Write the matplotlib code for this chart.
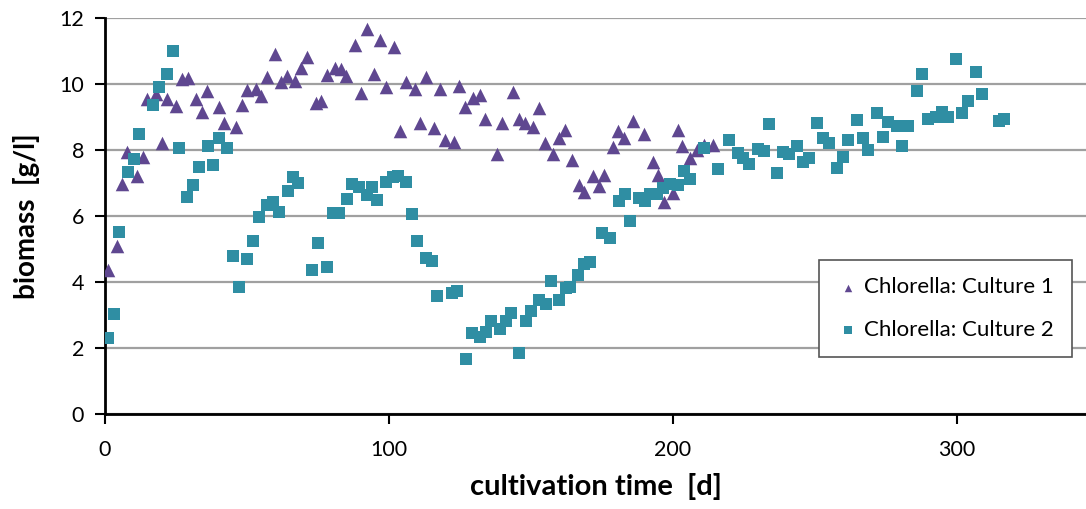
import matplotlib
matplotlib.use("Agg")
import matplotlib.pyplot as plt

# Chlorella: Culture 1 (triangles)
c1_days = [1.2, 4.1, 6.1, 7.9, 11.1, 13.3, 14.9, 18.0, 20.2, 21.9, 25.0, 27.2, 29.1,
           32.0, 34.0, 36.0, 40.1, 41.9, 46.0, 48.1, 50.1, 53.0, 54.9, 57.0, 60.0,
           62.0, 64.2, 66.9, 68.9, 71.0, 74.2, 75.9, 78.0, 81.0, 83.0, 84.9, 88.0,
           90.0, 92.1, 94.8, 96.9, 98.9, 101.9, 103.9, 106.0, 109.2, 110.9, 113.0,
           115.9, 118.0, 119.7, 123.0, 124.8, 126.8, 129.7, 132.0, 133.8, 137.9,
           139.8, 143.8, 145.7, 147.9, 150.8, 152.8, 154.9, 157.9, 159.9, 162.0,
           164.5, 166.9, 168.7, 171.7, 173.8, 175.8, 178.7, 180.7, 182.9, 185.8,
           189.8, 192.8, 194.6, 196.9, 200.1, 201.6, 203.0, 206.0, 208.3, 210.9, 214.2]
c1_biomass = [4.36, 5.10, 6.97, 7.95, 7.20, 7.80, 9.54, 9.70, 8.20, 9.54, 9.34, 10.15, 10.17,
              9.54, 9.16, 9.79, 9.31, 8.83, 8.70, 9.36, 9.82, 9.84, 9.64, 10.20, 10.90,
              10.07, 10.24, 10.10, 10.50, 10.83, 9.43, 9.47, 10.27, 10.50, 10.45, 10.24, 11.18,
              9.72, 11.66, 10.29, 11.33, 9.92, 11.11, 8.59, 10.05, 9.84, 8.83, 10.22,
              8.66, 9.84, 8.30, 8.25, 9.94, 9.31, 9.57, 9.67, 8.93, 7.87,
              8.81, 9.77, 8.93, 8.81, 8.69, 9.26, 8.22, 7.87, 8.35, 8.60,
              7.70, 6.94, 6.74, 7.21, 6.91, 7.24, 8.10, 8.58, 8.35, 8.88,
              8.50, 7.65, 7.24, 6.43, 6.71, 8.60, 8.12, 7.75, 8.00, 8.15, 8.15]

# Chlorella: Culture 2 (squares)
c2_days = [1.2, 3.2, 5.0, 8.2, 10.3, 12.1, 17.0, 19.0, 21.9, 24.1, 26.2, 29.0, 31.1,
           33.2, 36.1, 38.1, 40.1, 43.1, 45.2, 47.2, 50.1, 52.0, 54.1, 56.9, 59.0,
           61.1, 64.3, 66.1, 68.1, 73.0, 75.0, 78.0, 80.2, 82.5, 85.1, 87.1, 89.4,
           92.1, 94.1, 95.9, 98.9, 101.3, 103.3, 106.0, 108.0, 110.0, 113.0, 115.0,
           117.0, 122.0, 124.0, 127.0, 129.1, 132.0, 134.0, 135.9, 139.1, 141.1,
           143.0, 145.9, 148.1, 149.9, 152.8, 155.2, 156.9, 159.9, 162.2, 163.8,
           166.5, 168.7, 170.8, 174.9, 177.8, 181.1, 183.1, 184.9, 188.1, 190.1,
           191.9, 194.2, 196.6, 198.9, 201.9, 203.9, 206.0, 210.9, 216.0, 219.8,
           223.0, 224.8, 226.9, 230.0, 232.2, 233.7, 236.7, 238.6, 241.0, 243.8,
           245.6, 248.0, 250.8, 252.7, 254.9, 257.9, 259.7, 261.7, 264.7, 266.8,
           268.8, 271.7, 273.8, 275.6, 278.7, 280.7, 282.9, 285.8, 287.8, 289.9,
           292.6, 294.6, 296.9, 299.6, 301.6, 303.7, 306.7, 308.7, 314.6, 316.5]
c2_biomass = [2.29, 3.03, 5.52, 7.34, 7.73, 8.50, 9.36, 9.90, 10.30, 11.00, 8.07, 6.59, 6.94,
              7.48, 8.12, 7.55, 8.35, 8.05, 4.79, 3.86, 4.69, 5.24, 5.98, 6.32, 6.42,
              6.13, 6.77, 7.19, 7.01, 4.36, 5.19, 4.46, 6.10, 6.10, 6.53, 6.96, 6.89,
              6.64, 6.87, 6.50, 7.04, 7.17, 7.20, 7.02, 6.05, 5.25, 4.72, 4.65,
              3.59, 3.68, 3.74, 1.66, 2.46, 2.34, 2.49, 2.83, 2.57, 2.83,
              3.05, 1.84, 2.83, 3.13, 3.45, 3.33, 4.03, 3.45, 3.81, 3.85,
              4.20, 4.55, 4.62, 5.49, 5.34, 6.46, 6.68, 5.86, 6.56, 6.46,
              6.68, 6.68, 6.84, 6.97, 6.94, 7.36, 7.11, 8.05, 7.42, 8.30,
              7.92, 7.75, 7.58, 8.02, 7.98, 8.78, 7.29, 7.95, 7.88, 8.12,
              7.65, 7.75, 8.83, 8.35, 8.22, 7.44, 7.80, 8.30, 8.91, 8.35,
              8.00, 9.13, 8.40, 8.86, 8.73, 8.12, 8.73, 9.80, 10.29, 8.93,
              8.99, 9.16, 8.99, 10.75, 9.13, 9.49, 10.37, 9.71, 8.88, 8.94]

series_labels = ["Chlorella: Culture 1", "Chlorella: Culture 2"]
x_ticks = [0, 100, 200, 300]
y_ticks = [0, 2, 4, 6, 8, 10, 12]

plt.rcParams['font.family'] = ['Lato', 'DejaVu Sans']

fig = plt.figure(figsize=(10.86, 5.09), dpi=100)
ax = fig.add_axes([105 / 1086, 1 - 414 / 509, 1 - 105 / 1086, 396 / 509])

purple = '#5f4790'
teal = '#2f8ea3'

ax.scatter(c1_days, c1_biomass, marker='^', s=95, color=purple, linewidths=0,
           label=series_labels[0], zorder=3)
ax.scatter(c2_days, c2_biomass, marker='s', s=85, color=teal, linewidths=0,
           label=series_labels[1], zorder=3)

ax.set_xlim(0, 345.4)
ax.set_ylim(0, 12)
ax.set_xticks(x_ticks)
ax.set_yticks(y_ticks)
ax.yaxis.grid(True, color='#a0a0a0', linewidth=1.6)
ax.set_axisbelow(True)

for s in ['top', 'right']:
    ax.spines[s].set_visible(False)
for s in ['left', 'bottom']:
    ax.spines[s].set_linewidth(2)
    ax.spines[s].set_color('black')

ax.tick_params(axis='both', direction='out', length=7, width=1.5, labelsize=15.5,
               colors='black')
ax.tick_params(axis='x', pad=12)
ax.tick_params(axis='y', pad=8)

ax.set_xlabel('cultivation time  [d]', fontsize=21, fontweight='bold', labelpad=9)
ax.set_ylabel('biomass  [g/l]', fontsize=20, fontweight='bold', labelpad=14)

leg = ax.legend(loc='lower right', bbox_to_anchor=(0.997, 0.115), fontsize=16,
                frameon=True, fancybox=False, edgecolor='#555555', framealpha=1,
                markerscale=0.55, handletextpad=0.25, labelspacing=1.0,
                borderpad=0.8, handlelength=1.0)
leg.get_frame().set_linewidth(1.2)

fig.savefig('out.png', dpi=100)
